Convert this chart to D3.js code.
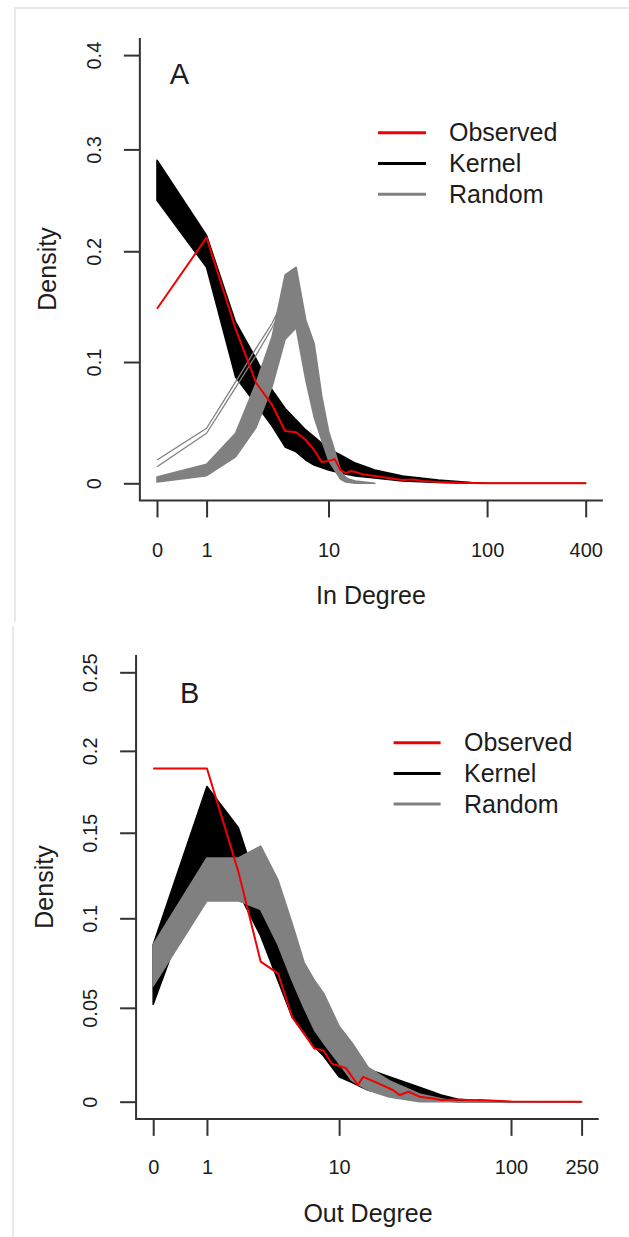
<!DOCTYPE html>
<html>
<head>
<meta charset="utf-8">
<script src="https://cdn.jsdelivr.net/npm/d3@7"></script>
<style>
  body { margin: 0; background: #fff; }
  text { font-family: "Liberation Sans", Arial, sans-serif; fill: #1c1c1c; }
</style>
</head>
<body>
<script>
// ---- Panel A : in degree ----
const inObsDeg = [0, 1, 2, 3, 4, 5, 6, 7, 8, 9, 10, 11, 12, 13, 14, 15, 17, 20, 25, 30, 35, 40, 50, 60, 80, 100, 400];
const inObsVal = [0.147, 0.213, 0.129, 0.082, 0.0635, 0.042, 0.041, 0.0346, 0.0265, 0.0168, 0.0176, 0.0192, 0.0105, 0.008, 0.0097, 0.0089, 0.007, 0.0057, 0.004, 0.0026, 0.003, 0.0018, 0.001, 0.0006, 0.0002, 0, 0];

const inKerDeg = [0, 1, 2, 3, 4, 5, 6, 7, 8, 10, 12, 15, 20, 30, 50, 80, 100, 400];
const inKerLo  = [0.249, 0.185, 0.087, 0.064, 0.046, 0.029, 0.025, 0.0185, 0.0145, 0.0105, 0.0081, 0.0058, 0.0042, 0.0018, 0.0006, 0, 0, 0];
const inKerHi  = [0.289, 0.215, 0.135, 0.1026, 0.076, 0.0605, 0.051, 0.0428, 0.0371, 0.0273, 0.0225, 0.016, 0.0105, 0.0058, 0.0026, 0.0006, 0, 0];

const inRanDeg = [0, 1, 2, 3, 4, 5, 6, 7, 8, 9, 10, 11, 12, 13, 15, 20];
const inRanLo  = [0.001, 0.006, 0.021, 0.045, 0.079, 0.12, 0.13, 0.085, 0.0535, 0.0346, 0.0185, 0.0105, 0.0034, 0.001, 0, 0];
const inRanHi  = [0.005, 0.015, 0.04, 0.082, 0.122, 0.178, 0.185, 0.137, 0.116, 0.0711, 0.042, 0.0257, 0.0097, 0.004, 0.0018, 0];

// two random runs sitting above the main band
const inRanOutDeg = [0, 1, 2, 3, 4, 5, 6, 7, 8, 9, 10, 11, 12, 14, 16];
const inRanOut1 = [0.0185, 0.0442, 0.083, 0.112, 0.134, 0.158, 0.175, 0.13, 0.1, 0.06, 0.035, 0.02, 0.008, 0.002, 0];
const inRanOut2 = [0.0131, 0.0401, 0.078, 0.106, 0.13, 0.152, 0.17, 0.128, 0.095, 0.055, 0.03, 0.018, 0.007, 0.0015, 0];

const inXTicks = [0, 1, 10, 100, 400];
const inYTicks = [0, 0.1, 0.2, 0.3, 0.4];

// ---- Panel B : out degree ----
const outObsDeg = [0, 1, 2, 3, 4, 5, 6, 7, 8, 9, 11, 13, 14, 17, 21, 23, 26, 30, 36, 40, 50, 60, 67, 87, 100, 250];
const outObsVal = [0.189, 0.189, 0.127, 0.0755, 0.069, 0.045, 0.036, 0.028, 0.027, 0.02, 0.0177, 0.0087, 0.013, 0.0098, 0.0061, 0.0035, 0.0052, 0.0026, 0.0017, 0.0009, 0.0012, 0.0008, 0.0009, 0.0003, 0.0001, 0];

const outKerDeg = [0, 1, 2, 3, 4, 5, 6, 7, 8, 10, 12, 15, 20, 30, 40, 50, 70, 100, 250];
const outKerLo  = [0.052, 0.135, 0.115, 0.09, 0.065, 0.045, 0.036, 0.029, 0.024, 0.013, 0.01, 0.006, 0.004, 0.0015, 0.0005, 0, 0, 0, 0];
const outKerHi  = [0.085, 0.178, 0.153, 0.113, 0.095, 0.071, 0.054, 0.043, 0.036, 0.024, 0.019, 0.017, 0.013, 0.0075, 0.0035, 0.0012, 0.0003, 0, 0];

const outRanDeg = [0, 1, 2, 3, 4, 5, 6, 7, 8, 10, 12, 15, 20, 30, 40, 50, 250];
const outRanLo  = [0.062, 0.11, 0.11, 0.105, 0.085, 0.065, 0.05, 0.038, 0.031, 0.02, 0.011, 0.006, 0.0025, 0, 0, 0, 0];
const outRanHi  = [0.085, 0.135, 0.135, 0.142, 0.122, 0.097, 0.075, 0.065, 0.058, 0.04, 0.031, 0.018, 0.011, 0.004, 0.0015, 0, 0];

const outXTicks = [0, 1, 10, 100, 250];
const outYTicks = [0, 0.05, 0.1, 0.15, 0.2, 0.25];

const legendNames = ["Observed", "Kernel", "Random"];
const RED = "#f00000", BLACK = "#000", GRAY = "#808080";

const svg = d3.select("body").append("svg")
    .attr("width", 629).attr("height", 1237);

// light frame of the two screenshots
svg.append("path").attr("d", "M15,622V8H629").attr("fill", "none").attr("stroke", "#e2e2e2").attr("stroke-width", 1.5);
svg.append("path").attr("d", "M13,1237V626").attr("fill", "none").attr("stroke", "#e2e2e2").attr("stroke-width", 1.5);

function band(deg, lo, hi) {
    return deg.map((d, i) => ({deg: d, lo: lo[i], hi: hi[i]}));
}
function pts(deg, val) {
    return deg.map((d, i) => ({deg: d, v: val[i]}));
}

function panel(p) {
    const g = svg.append("g");
    const x = d3.scaleSymlog().constant(1).domain([0, p.xMax]).range(p.xRange);
    const y = d3.scaleSymlog().constant(1).domain([0, p.yMax]).range(p.yRange);
    // R pads the plot region by 4%
    const padX = 0.04 * (p.xRange[1] - p.xRange[0]);
    const padY = 0.04 * (p.yRange[0] - p.yRange[1]);
    const left = p.xRange[0] - padX, right = p.xRange[1] + padX;
    const top = p.yRange[1] - padY, bottom = p.yRange[0] + padY;

    const area = d3.area().x(d => x(d.deg)).y0(d => y(d.lo)).y1(d => y(d.hi));
    const line = d3.line().x(d => x(d.deg)).y(d => y(d.v));

    p.layers.forEach(l => {
        if (l.type === "band") {
            g.append("path").datum(l.data).attr("d", area)
                .attr("fill", l.color).attr("stroke", l.color).attr("stroke-width", 1.6)
                .attr("stroke-linejoin", "round");
        } else {
            g.append("path").datum(l.data).attr("d", line)
                .attr("fill", "none").attr("stroke", l.color).attr("stroke-width", l.width || 1.3)
                .attr("stroke-linejoin", "round");
        }
    });

    // L-shaped box
    g.append("path").attr("d", `M${left},${top}V${bottom}H${right}`)
        .attr("fill", "none").attr("stroke", "#333").attr("stroke-width", 2);

    const ax = g.append("g").attr("transform", `translate(0,${bottom})`)
        .call(d3.axisBottom(x).tickValues(p.xTicks).tickSize(17).tickFormat(d3.format("d")));
    ax.select(".domain").remove();
    ax.selectAll("line").attr("stroke", "#333").attr("stroke-width", 2);
    ax.selectAll("text").attr("y", p.xLabelY - bottom).attr("dy", "0.35em")
        .style("font-size", "20px").attr("fill", "#1c1c1c");

    const ay = g.append("g").attr("transform", `translate(${left},0)`)
        .call(d3.axisLeft(y).tickValues(p.yTicks).tickSize(16).tickFormat(d => d === 0 ? "0" : String(d)));
    ay.select(".domain").remove();
    ay.selectAll("line").attr("stroke", "#333").attr("stroke-width", 2);
    ay.selectAll("text").attr("x", 0).attr("y", 0).attr("dy", "0.35em")
        .attr("text-anchor", "middle")
        .attr("transform", `translate(${p.yLabelX - left},0) rotate(-90)`)
        .style("font-size", "20px").attr("fill", "#1c1c1c");

    g.append("text").attr("x", p.xTitle[0]).attr("y", p.xTitle[1]).attr("dy", "0.35em")
        .attr("text-anchor", "middle").style("font-size", "25px").text(p.xTitleText);
    g.append("text").attr("transform", `translate(${p.yTitle[0]},${p.yTitle[1]}) rotate(-90)`)
        .attr("dy", "0.35em").attr("text-anchor", "middle").style("font-size", "25px").text("Density");
    g.append("text").attr("x", p.letter[0]).attr("y", p.letter[1]).attr("dy", "0.35em")
        .attr("text-anchor", "middle").style("font-size", "29px").text(p.letterText);

    const colors = [RED, BLACK, GRAY];
    legendNames.forEach((name, i) => {
        const ly = p.legend.y0 + i * p.legend.step;
        g.append("line").attr("x1", p.legend.x1).attr("x2", p.legend.x2)
            .attr("y1", ly).attr("y2", ly).attr("stroke", colors[i]).attr("stroke-width", 3);
        g.append("text").attr("x", p.legend.tx).attr("y", ly).attr("dy", "0.35em")
            .style("font-size", "25px").text(name);
    });
}

panel({
    xMax: 400, yMax: 0.4,
    xRange: [157, 585.7], yRange: [483.3, 55.1],
    xTicks: inXTicks, yTicks: inYTicks,
    xLabelY: 550, yLabelX: 94,
    xTitle: [371, 595], yTitle: [47, 269], xTitleText: "In Degree",
    letter: [179.5, 74], letterText: "A",
    legend: {x1: 378, x2: 426, tx: 449, y0: 132.7, step: 30.8},
    layers: [
        {type: "band", color: BLACK, data: band(inKerDeg, inKerLo, inKerHi)},
        {type: "band", color: GRAY, data: band(inRanDeg, inRanLo, inRanHi)},
        {type: "line", color: GRAY, data: pts(inRanOutDeg, inRanOut1)},
        {type: "line", color: GRAY, data: pts(inRanOutDeg, inRanOut2)},
        {type: "line", color: RED, width: 2, data: pts(inObsDeg, inObsVal)}
    ]
});

panel({
    xMax: 250, yMax: 0.25,
    xRange: [153.2, 581.6], yRange: [1101.7, 672.3],
    xTicks: outXTicks, yTicks: outYTicks,
    xLabelY: 1167, yLabelX: 90,
    xTitle: [368, 1213], yTitle: [44, 887], xTitleText: "Out Degree",
    letter: [189.6, 693], letterText: "B",
    legend: {x1: 393.6, x2: 440.6, tx: 464, y0: 742.7, step: 30.7},
    layers: [
        {type: "band", color: BLACK, data: band(outKerDeg, outKerLo, outKerHi)},
        {type: "band", color: GRAY, data: band(outRanDeg, outRanLo, outRanHi)},
        {type: "line", color: RED, width: 2, data: pts(outObsDeg, outObsVal)}
    ]
});
</script>
</body>
</html>
